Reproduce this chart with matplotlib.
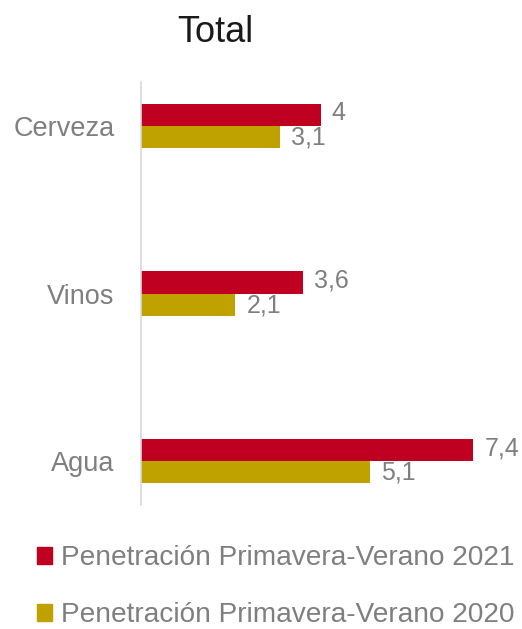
import numpy as np
import matplotlib
matplotlib.use("Agg")
from matplotlib import pyplot as plt
from matplotlib.patches import Patch

plt.rcParams['font.family'] = ['Liberation Sans', 'DejaVu Sans']

categories = ["Cerveza", "Vinos", "Agua"]
values_2021 = [4.0, 3.6, 7.4]
values_2020 = [3.1, 2.1, 5.1]
labels_2021 = ["4", "3,6", "7,4"]
labels_2020 = ["3,1", "2,1", "5,1"]
series_names = ["Penetración Primavera-Verano 2021", "Penetración Primavera-Verano 2020"]

red = "#C00020"
gold = "#BFA100"
grey = "#7F7F7F"

W, H = 522, 629
fig = plt.figure(figsize=(W / 100, H / 100), dpi=100)
ax = fig.add_axes([141 / W, (H - 505) / H, 359 / W, 423 / H])

y = np.arange(len(categories))
bh = 0.132
ax.barh(y - bh / 2, values_2021, height=bh, color=red)
ax.barh(y + bh / 2, values_2020, height=bh, color=gold)

for yi, v, s in zip(y, values_2021, labels_2021):
    ax.text(v + 0.25, yi - bh / 2 - 0.01, s, va='center', ha='left', fontsize=18, color=grey)
for yi, v, s in zip(y, values_2020, labels_2020):
    ax.text(v + 0.25, yi + bh / 2 + 0.005, s, va='center', ha='left', fontsize=18, color=grey)

ax.set_xlim(0, 8)
ax.set_ylim(2.262, -0.262)
ax.set_yticks(y)
ax.set_yticklabels(categories, fontsize=19.5, color=grey)
ax.tick_params(axis='y', length=0, pad=19)
ax.set_xticks([])
for sp in ['top', 'right', 'bottom']:
    ax.spines[sp].set_visible(False)
ax.spines['left'].set_color('#D9D9D9')
ax.spines['left'].set_linewidth(1.2)

fig.text(215 / W, 1 - 32 / H, "Total", ha='center', va='center', fontsize=26, color='#1A1A1A')

handles = [Patch(color=red, label=series_names[0]), Patch(color=gold, label=series_names[1])]
fig.legend(handles=handles, loc='upper left', bbox_to_anchor=(37 / W, 1 - 545 / H),
           frameon=False, fontsize=20.2, labelcolor=grey, handlelength=0.55, handleheight=0.55,
           handletextpad=0.3, labelspacing=1.12, borderaxespad=0, borderpad=0)

fig.savefig("out.png", dpi=100)
